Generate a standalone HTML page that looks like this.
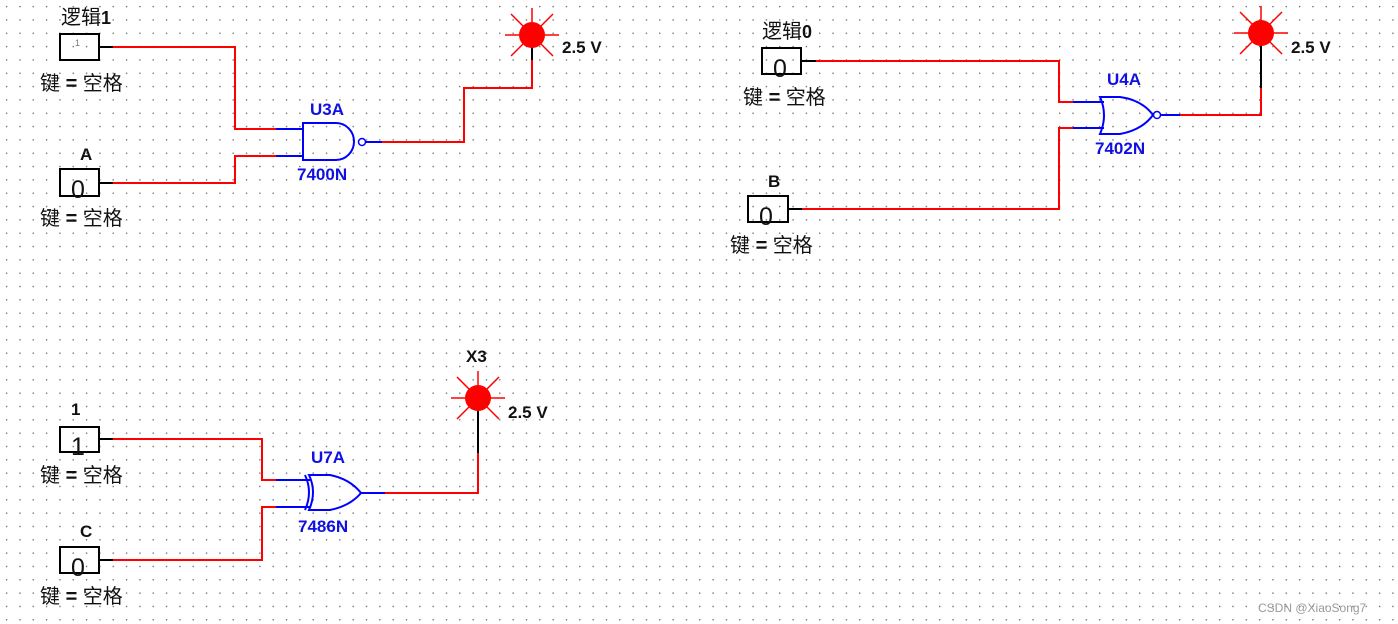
<!DOCTYPE html>
<html><head><meta charset="utf-8"><style>
html,body{margin:0;padding:0;background:#fff}
svg{display:block}
text{font-family:"Liberation Sans","Noto Sans CJK SC",sans-serif}
.l{font-size:20px;fill:#111}
.lb{font-size:17px;font-weight:bold;fill:#111}
.bl{font-size:17px;font-weight:bold;fill:#1010e0}
.num{font-size:25px;fill:#111}
</style></head><body>
<svg width="1398" height="624" viewBox="0 0 1398 624" xmlns="http://www.w3.org/2000/svg">
<defs>
<pattern id="g" x="0" y="0" width="13.33" height="13.33" patternUnits="userSpaceOnUse">
<rect x="6" y="6" width="1.2" height="1.2" fill="#444"/>
</pattern>
<g id="lamp">
<g stroke="#f00" stroke-width="1.5">
<line x1="-27" y1="0" x2="27" y2="0"/><line x1="0" y1="-27" x2="0" y2="0"/>
<line x1="-21" y1="-21" x2="21" y2="21"/><line x1="-21" y1="21" x2="21" y2="-21"/>
</g>
<circle cx="0" cy="0" r="13" fill="#f00"/>
</g>
</defs>
<rect width="1398" height="624" fill="url(#g)"/>

<g fill="none" stroke-width="2">
<polyline points="113,47 235,47 235,129 276,129" stroke="#f00"/>
<polyline points="113,183 235,183 235,156 276,156" stroke="#f00"/>
<line x1="99" y1="47" x2="113" y2="47" stroke="#000"/>
<line x1="99" y1="183" x2="113" y2="183" stroke="#000"/>
<line x1="276" y1="129" x2="303" y2="129" stroke="#00f"/>
<line x1="276" y1="156" x2="303" y2="156" stroke="#00f"/>
<path d="M303,123 H336 A18,18.5 0 0 1 336,160 H303 Z" stroke="#00f"/>
<circle cx="362" cy="142" r="3.5" stroke="#00f" stroke-width="1.5"/>
<line x1="366" y1="142" x2="382" y2="142" stroke="#00f"/>
<polyline points="382,142 464,142 464,88 532,88 532,60" stroke="#f00"/>
<line x1="532" y1="60" x2="532" y2="40" stroke="#000"/>
<rect x="60" y="34" width="39" height="26" stroke="#000"/>
<rect x="60" y="169" width="39" height="27" stroke="#000"/>

<polyline points="816,61 1059,61 1059,102 1073,102" stroke="#f00"/>
<polyline points="802,209 1059,209 1059,128 1073,128" stroke="#f00"/>
<line x1="801" y1="61" x2="816" y2="61" stroke="#000"/>
<line x1="788" y1="209" x2="802" y2="209" stroke="#000"/>
<line x1="1073" y1="102" x2="1104" y2="102" stroke="#00f"/>
<line x1="1073" y1="128" x2="1104" y2="128" stroke="#00f"/>
<path d="M1100,97 Q1108,115 1100,134 H1120 Q1142,130 1153,115 Q1142,100 1120,97 Z" stroke="#00f"/>
<circle cx="1157" cy="115" r="3.5" stroke="#00f" stroke-width="1.5"/>
<line x1="1161" y1="115" x2="1180" y2="115" stroke="#00f"/>
<polyline points="1180,115 1261,115 1261,88" stroke="#f00"/>
<line x1="1261" y1="88" x2="1261" y2="45" stroke="#000"/>
<rect x="762" y="48" width="39" height="26" stroke="#000"/>
<rect x="748" y="196" width="40" height="26" stroke="#000"/>

<polyline points="113,439 262,439 262,480 276,480" stroke="#f00"/>
<polyline points="113,560 262,560 262,507 276,507" stroke="#f00"/>
<line x1="99" y1="439" x2="113" y2="439" stroke="#000"/>
<line x1="99" y1="560" x2="113" y2="560" stroke="#000"/>
<line x1="276" y1="480" x2="310" y2="480" stroke="#00f"/>
<line x1="276" y1="507" x2="310" y2="507" stroke="#00f"/>
<path d="M309,475 Q317,492 309,510 H330 Q350,506 361,493 Q350,479 330,475 Z" stroke="#00f"/>
<path d="M305,475 Q313,492 305,510" stroke="#00f"/>
<line x1="361" y1="493" x2="385" y2="493" stroke="#00f"/>
<polyline points="385,493 478,493 478,453" stroke="#f00"/>
<line x1="478" y1="453" x2="478" y2="405" stroke="#000"/>
<rect x="60" y="427" width="39" height="25" stroke="#000"/>
<rect x="60" y="547" width="39" height="26" stroke="#000"/>
</g>

<use href="#lamp" x="532" y="35"/>
<use href="#lamp" x="1261" y="33"/>
<use href="#lamp" x="478" y="398"/>

<text x="61" y="24" class="l">逻辑<tspan font-weight="bold" font-size="18">1</tspan></text>
<text x="75" y="46" font-size="9" fill="#777">1</text>
<text x="40" y="90" class="l">键 <tspan font-weight="bold">=</tspan> 空格</text>
<text x="80" y="160" class="lb">A</text>
<text x="71" y="198" class="num">0</text>
<text x="40" y="225" class="l">键 <tspan font-weight="bold">=</tspan> 空格</text>
<text x="310" y="115" class="bl">U3A</text>
<text x="297" y="180" class="bl">7400N</text>
<text x="562" y="53" class="lb">2.5 V</text>

<text x="762" y="38" class="l">逻辑<tspan font-weight="bold" font-size="18">0</tspan></text>
<text x="773" y="77" class="num">0</text>
<text x="743" y="104" class="l">键 <tspan font-weight="bold">=</tspan> 空格</text>
<text x="768" y="187" class="lb">B</text>
<text x="759" y="225" class="num">0</text>
<text x="730" y="252" class="l">键 <tspan font-weight="bold">=</tspan> 空格</text>
<text x="1107" y="85" class="bl">U4A</text>
<text x="1095" y="154" class="bl">7402N</text>
<text x="1291" y="53" class="lb">2.5 V</text>

<text x="71" y="415" class="lb">1</text>
<text x="71" y="455" class="num">1</text>
<text x="40" y="482" class="l">键 <tspan font-weight="bold">=</tspan> 空格</text>
<text x="80" y="537" class="lb">C</text>
<text x="71" y="576" class="num">0</text>
<text x="40" y="603" class="l">键 <tspan font-weight="bold">=</tspan> 空格</text>
<text x="311" y="463" class="bl">U7A</text>
<text x="298" y="532" class="bl">7486N</text>
<text x="466" y="362" class="lb">X3</text>
<text x="508" y="418" class="lb">2.5 V</text>

<text x="1258" y="612" font-size="12" fill="#999">CSDN @XiaoSong7</text>
</svg>
</body></html>
